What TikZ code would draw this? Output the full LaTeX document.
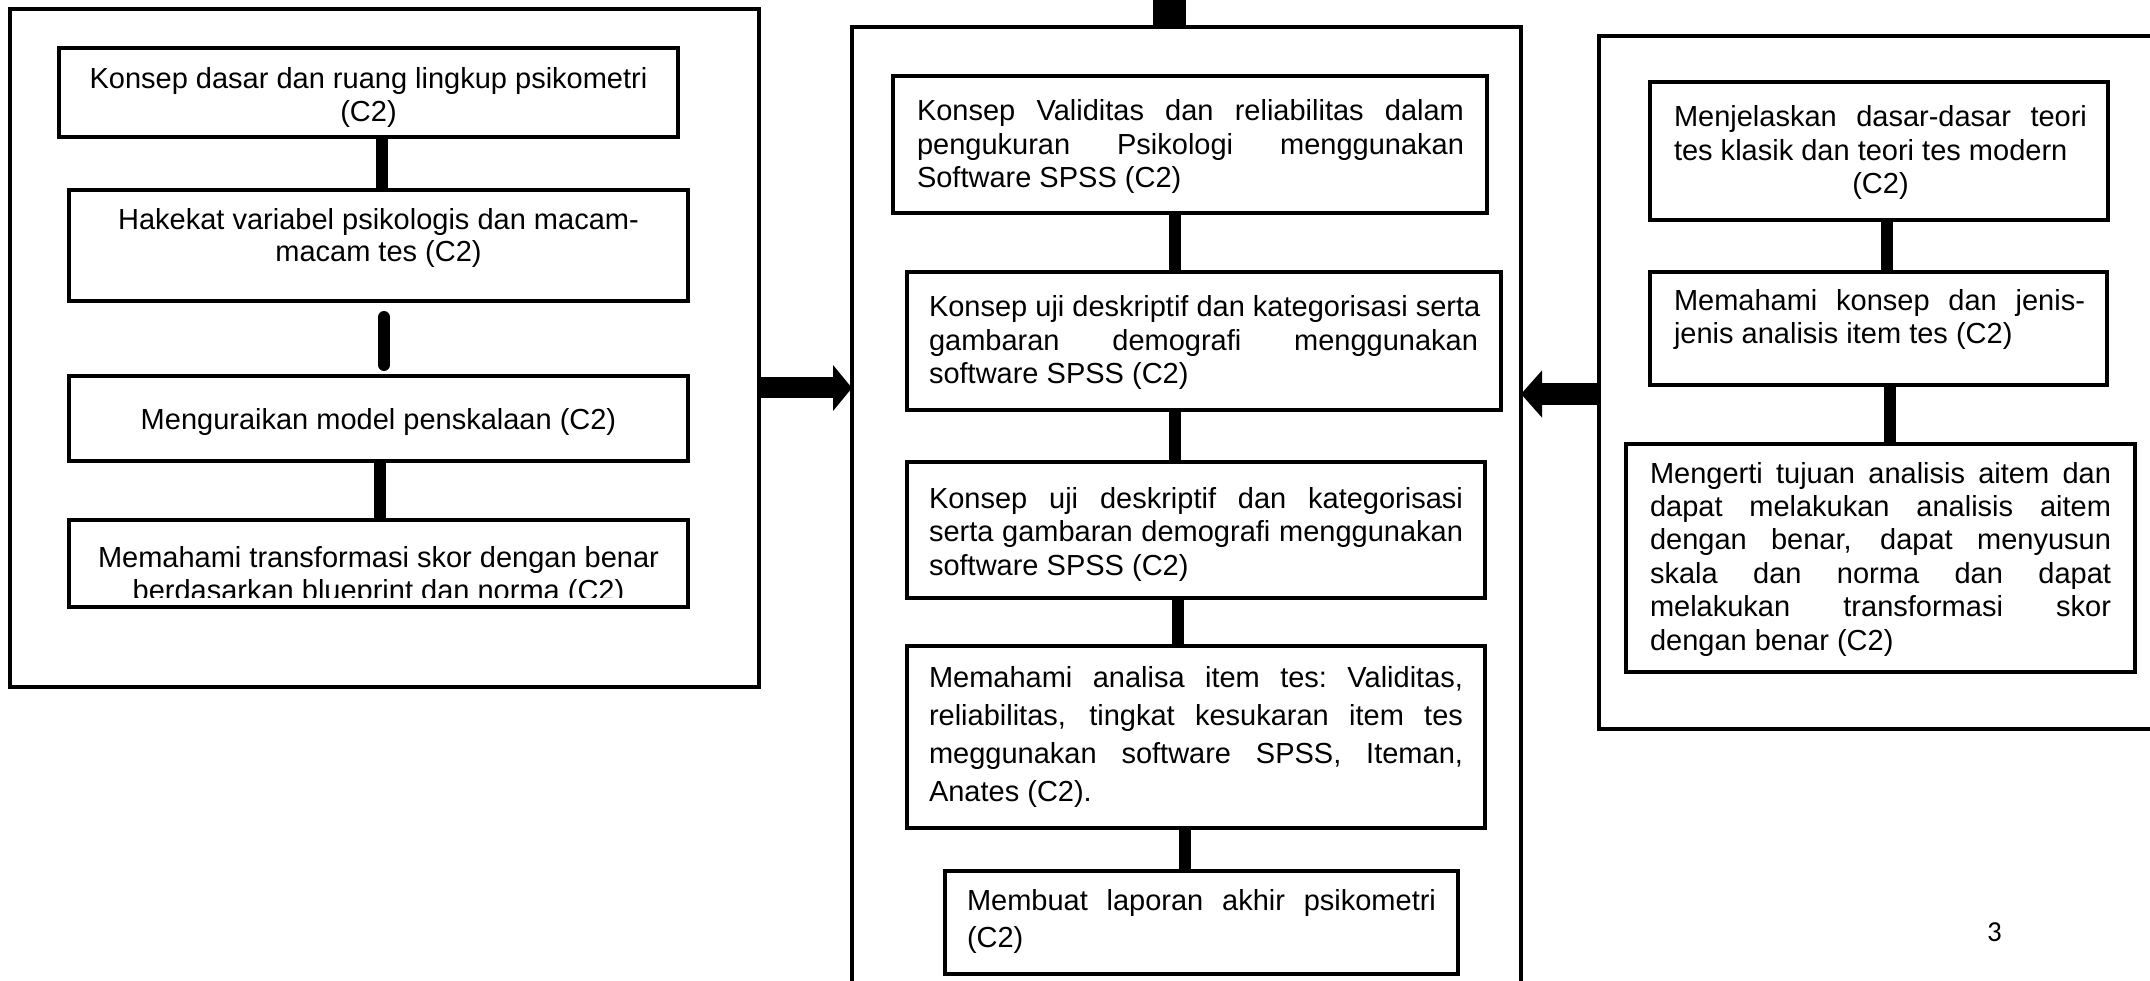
\documentclass[tikz,border=0pt]{standalone}
\usepackage{fontspec}
\setmainfont{Liberation Sans}
\newfontfamily\pagefont{Carlito}
\usetikzlibrary{arrows.meta}
\newcommand\ns{\spaceskip=0.278em\xspaceskip=0.278em\relax}
\newcommand\jl[2]{{\spaceskip=0.278em plus 1fil\xspaceskip=0.278em plus 1fil\relax\makebox[#1][s]{#2}}}
\begin{document}
\begin{tikzpicture}[x=1pt,y=-1pt,
  box/.style={draw, line width=4.5pt, inner sep=0pt, outer sep=0pt, anchor=north west},
  conn/.style={line width=12pt},
  txt/.style={inner sep=0pt, outer sep=0pt, anchor=base west, align=left},
  ctxt/.style={inner sep=0pt, outer sep=0pt, anchor=base, align=center, text width=615pt},
  blockarrow/.style={line width=21pt, -{Triangle[length=19pt,width=45pt]}},
]
\clip (0,0) rectangle (2150,981);
\fill[white] (0,0) rectangle (2150,981);

% ---------- left column ----------
\node[box, minimum width=749pt, minimum height=678pt] (LO) at (10,9) {};
\node[box, minimum width=619pt, minimum height=89pt]  (L1) at (59,48) {};
\node[box, minimum width=619pt, minimum height=111pt] (L2) at (69,190) {};
\node[box, minimum width=619pt, minimum height=85pt]  (L3) at (69,376) {};
\node[box, minimum width=619pt, minimum height=87pt]  (L4) at (69,520) {};

\node[ctxt, font=\fontsize{29}{33}\selectfont] (L1t) at (368.5,89)
  {\ns Konsep dasar dan ruang lingkup psikometri\hspace*{8pt}\\(C2)};
\node[ctxt, font=\fontsize{29}{32}\selectfont] (L2t) at (378.5,230)
  {\ns Hakekat variabel psikologis dan macam-\\macam tes (C2)};
\node[ctxt, font=\fontsize{29}{33}\selectfont] (L3t) at (378.5,429)
  {\ns Menguraikan model penskalaan (C2)};
\begin{scope}
  \clip (75,525) rectangle (683,597);
  \node[ctxt, font=\fontsize{29}{33}\selectfont] (L4t) at (378.5,567)
    {\ns Memahami transformasi skor dengan benar\\berdasarkan blueprint dan norma (C2)};
\end{scope}

\coordinate (k1) at (382,0);
\coordinate (k2) at (384,0);
\coordinate (k3) at (380,0);
\draw[conn] (L1.south -| k1) -- (L2.north -| k1);
\draw[conn, line cap=round, shorten <=16pt, shorten >=11pt] (L2.south -| k2) -- (L3.north -| k2);
\draw[conn] (L3.south -| k3) -- (L4.north -| k3);

% ---------- middle column ----------
\node[box, minimum width=669pt, minimum height=1000pt] (MO) at (852,27) {};
\node[box, minimum width=594pt, minimum height=137pt] (M1) at (893,76) {};
\node[box, minimum width=594pt, minimum height=138pt] (M2) at (907,272) {};
\node[box, minimum width=578pt, minimum height=136pt] (M3) at (907,462) {};
\node[box, minimum width=578pt, minimum height=182pt] (M4) at (907,646) {};
\node[box, minimum width=513pt, minimum height=103pt] (M5) at (945,871) {};

\node[txt, text width=547pt, font=\fontsize{29}{33.5}\selectfont] (M1t) at (917,121)
  {\ns\jl{547pt}{Konsep Validitas dan reliabilitas dalam}\\\jl{547pt}{pengukuran Psikologi menggunakan}\\Software SPSS (C2)};
\node[txt, text width=549pt, font=\fontsize{29}{33.5}\selectfont] (M2t) at (929,317)
  {\ns\jl{549pt}{Konsep uji deskriptif dan kategorisasi serta}\\\jl{549pt}{gambaran demografi menggunakan}\\software SPSS (C2)};
\node[txt, text width=534pt, font=\fontsize{29}{33.5}\selectfont] (M3t) at (929,508)
  {\ns\jl{534pt}{Konsep uji deskriptif dan kategorisasi}\\\jl{534pt}{serta gambaran demografi menggunakan}\\software SPSS (C2)};
\node[txt, text width=534pt, font=\fontsize{29}{38.3}\selectfont] (M4t) at (929,687)
  {\ns\jl{534pt}{Memahami analisa item tes: Validitas,}\\\jl{534pt}{reliabilitas, tingkat kesukaran item tes}\\\jl{534pt}{meggunakan software SPSS, Iteman,}\\Anates (C2).};
\node[txt, text width=469pt, font=\fontsize{29}{37}\selectfont] (M5t) at (967,910)
  {\ns\jl{469pt}{Membuat laporan akhir psikometri}\\(C2)};

\coordinate (top) at (1169.5,-5);
\draw[line width=33pt] (top) -- (MO.north -| top);
\coordinate (m1) at (1175,0);
\coordinate (m2) at (1175,0);
\coordinate (m3) at (1178,0);
\coordinate (m4) at (1185,0);
\draw[conn] (M1.south -| m1) -- (M2.north -| m1);
\draw[conn] (M2.south -| m2) -- (M3.north -| m2);
\draw[conn] (M3.south -| m3) -- (M4.north -| m3);
\draw[conn] (M4.south -| m4) -- (M5.north -| m4);

% ---------- right column ----------
\node[box, minimum width=620pt, minimum height=693pt] (RO) at (1599,36) {};
\node[box, minimum width=458pt, minimum height=138pt] (R1) at (1650,82) {};
\node[box, minimum width=457pt, minimum height=113pt] (R2) at (1650,272) {};
\node[box, minimum width=509pt, minimum height=228pt] (R3) at (1626,444) {};

\node[txt, text width=413pt, font=\fontsize{29}{33.5}\selectfont] (R1t) at (1674,127)
  {\ns\jl{413pt}{Menjelaskan dasar-dasar teori}\\tes klasik dan teori tes modern\\\makebox[413pt][c]{(C2)}};
\node[txt, text width=411pt, font=\fontsize{29}{33}\selectfont] (R2t) at (1674,311)
  {\ns\jl{411pt}{Memahami konsep dan jenis-}\\jenis analisis item tes (C2)};
\node[txt, text width=461pt, font=\fontsize{29}{33.4}\selectfont] (R3t) at (1650,483)
  {\ns\jl{461pt}{Mengerti tujuan analisis aitem dan}\\\jl{461pt}{dapat melakukan analisis aitem}\\\jl{461pt}{dengan benar, dapat menyusun}\\\jl{461pt}{skala dan norma dan dapat}\\\jl{461pt}{melakukan transformasi skor}\\dengan benar (C2)};

\coordinate (r1) at (1887,0);
\coordinate (r2) at (1890,0);
\draw[conn] (R1.south -| r1) -- (R2.north -| r1);
\draw[conn] (R2.south -| r2) -- (R3.north -| r2);

% ---------- block arrows ----------
\coordinate (ya) at (0,388);
\coordinate (yb) at (0,394);
\draw[blockarrow] (LO.east |- ya) -- (MO.west |- ya);
\draw[line width=22pt, -{Triangle[length=21pt,width=46pt]}] (RO.west |- yb) -- (MO.east |- yb);

% ---------- page number ----------
\node[inner sep=0pt, anchor=base, font=\pagefont\fontsize{29}{33}\selectfont] (pg) at (1994.5,941) {3};
\end{tikzpicture}
\end{document}
